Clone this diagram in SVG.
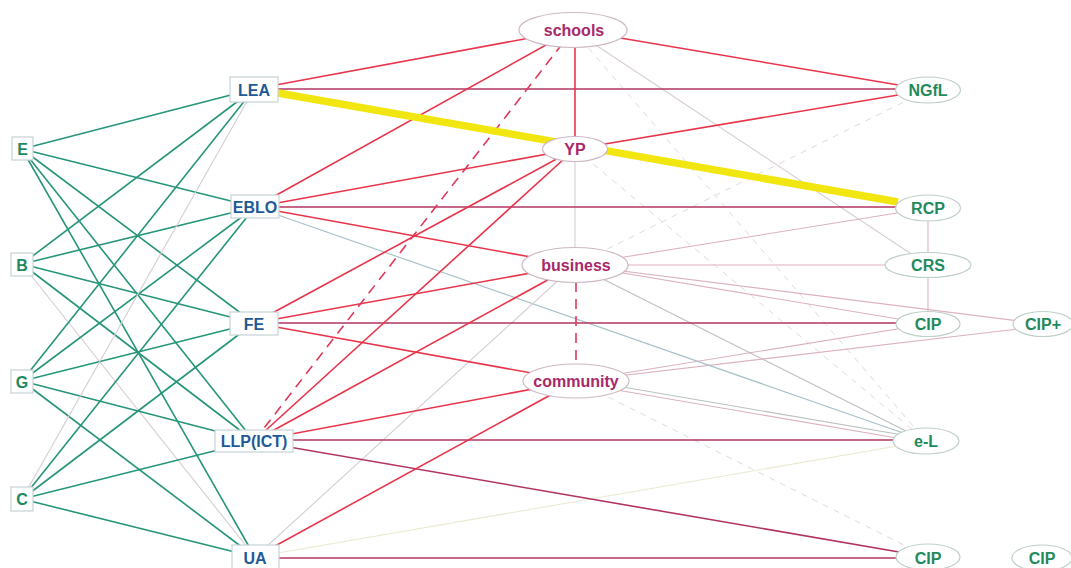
<svg xmlns="http://www.w3.org/2000/svg" width="1071" height="568" viewBox="0 0 1071 568">
  <style>
    .box { fill: #ffffff; stroke: #c6d2d6; stroke-width: 1.2; }
    .ell-mid { fill: #ffffff; stroke: #cdb9c4; stroke-width: 1.2; }
    .ell-right { fill: #ffffff; stroke: #bfd0c7; stroke-width: 1.2; }
    .t { font-family: "Liberation Sans", Arial, sans-serif; font-weight: bold; font-size: 16px; text-anchor: middle; dominant-baseline: central; }
    .green-t { fill: #1f8a5c; }
    .blue-t { fill: #1e5a96; }
    .mag-t { fill: #a8286a; }
    .e-green { stroke: #26957a; stroke-width: 1.6; fill: none; }
    .e-red { stroke: #e8354b; stroke-width: 1.6; fill: none; }
    .e-crim { stroke: #b23462; stroke-width: 1.6; fill: none; }
    .e-dash { stroke: #e0385a; stroke-width: 1.6; stroke-dasharray: 10 7; fill: none; }
    .e-hi { stroke: #f2e610; stroke-width: 7.5; fill: none; }
    .e-faint { stroke: #d6cdd1; stroke-width: 1.1; fill: none; }
    .e-pink { stroke: #dcb2c0; stroke-width: 1.1; fill: none; }
    .e-grey { stroke: #bcc0c0; stroke-width: 1.1; fill: none; }
    .e-blue { stroke: #a9c3c9; stroke-width: 1.2; fill: none; }
    .e-fdash { stroke: #e0dadc; stroke-width: 1; stroke-dasharray: 6 6; fill: none; }
    .e-yel { stroke: #ece9d2; stroke-width: 1.1; fill: none; }
  </style>

  <rect width="1071" height="568" fill="#ffffff"/>

  <g id="connectors">
    <!-- left column to second column -->
    <line class="e-green" x1="22" y1="149" x2="254" y2="89"/>
    <line class="e-green" x1="22" y1="149" x2="255" y2="207"/>
    <line class="e-green" x1="22" y1="149" x2="254" y2="323"/>
    <line class="e-green" x1="22" y1="149" x2="254" y2="441"/>
    <line class="e-green" x1="22" y1="149" x2="255" y2="557"/>

    <line class="e-green" x1="22" y1="264" x2="254" y2="89"/>
    <line class="e-green" x1="22" y1="264" x2="255" y2="207"/>
    <line class="e-green" x1="22" y1="264" x2="254" y2="323"/>
    <line class="e-green" x1="22" y1="264" x2="254" y2="441"/>
    <line class="e-faint" x1="22" y1="264" x2="255" y2="557"/>

    <line class="e-green" x1="22" y1="381" x2="254" y2="89"/>
    <line class="e-green" x1="22" y1="381" x2="255" y2="207"/>
    <line class="e-green" x1="22" y1="381" x2="254" y2="323"/>
    <line class="e-green" x1="22" y1="381" x2="254" y2="441"/>
    <line class="e-green" x1="22" y1="381" x2="255" y2="557"/>

    <line class="e-faint" x1="22" y1="499" x2="254" y2="89"/>
    <line class="e-green" x1="22" y1="499" x2="255" y2="207"/>
    <line class="e-green" x1="22" y1="499" x2="254" y2="323"/>
    <line class="e-green" x1="22" y1="499" x2="254" y2="441"/>
    <line class="e-green" x1="22" y1="499" x2="255" y2="557"/>

    <!-- faint background links among the middle and right nodes -->
    <line class="e-faint" x1="573" y1="30" x2="928" y2="265"/>
    <line class="e-fdash" x1="575" y1="265" x2="928" y2="90"/>
    <line class="e-fdash" x1="575" y1="149" x2="926" y2="441"/>
    <line class="e-fdash" x1="573" y1="30" x2="926" y2="441"/>
    <line class="e-fdash" x1="576" y1="381" x2="928" y2="557"/>
    <line class="e-pink" x1="575" y1="265" x2="928" y2="208"/>
    <line class="e-pink" x1="575" y1="265" x2="928" y2="265"/>
    <line class="e-pink" x1="575" y1="265" x2="928" y2="324"/>
    <line class="e-pink" x1="575" y1="265" x2="1043" y2="324"/>
    <line class="e-grey" x1="575" y1="265" x2="926" y2="441"/>
    <line class="e-pink" x1="576" y1="381" x2="928" y2="324"/>
    <line class="e-pink" x1="576" y1="381" x2="1043" y2="326"/>
    <line class="e-grey" x1="576" y1="379" x2="926" y2="439"/>
    <line class="e-pink" x1="576" y1="383" x2="926" y2="443"/>
    <line class="e-blue" x1="255" y1="207" x2="926" y2="441"/>
    <line class="e-faint" x1="255" y1="557" x2="575" y2="265"/>
    <line class="e-yel" x1="255" y1="557" x2="926" y2="441"/>
    <line class="e-faint" x1="575" y1="149" x2="575" y2="265"/>
    <line class="e-pink" x1="928" y1="208" x2="928" y2="265"/>
    <line class="e-pink" x1="928" y1="265" x2="928" y2="324"/>

    <!-- second column to the middle and right nodes -->
    <line class="e-red" x1="254" y1="89" x2="573" y2="30"/>
    <line class="e-crim" x1="254" y1="89" x2="928" y2="89"/>

    <line class="e-red" x1="255" y1="207" x2="573" y2="30"/>
    <line class="e-red" x1="255" y1="207" x2="575" y2="149"/>
    <line class="e-crim" x1="255" y1="207" x2="928" y2="207"/>
    <line class="e-red" x1="255" y1="207" x2="575" y2="265"/>

    <line class="e-red" x1="254" y1="323" x2="575" y2="149"/>
    <line class="e-red" x1="254" y1="323" x2="575" y2="265"/>
    <line class="e-crim" x1="254" y1="323" x2="928" y2="323"/>
    <line class="e-red" x1="254" y1="323" x2="576" y2="381"/>

    <line class="e-dash" x1="254" y1="441" x2="573" y2="30"/>
    <line class="e-red" x1="254" y1="441" x2="575" y2="149"/>
    <line class="e-red" x1="254" y1="441" x2="575" y2="265"/>
    <line class="e-red" x1="254" y1="441" x2="576" y2="381"/>
    <line class="e-crim" x1="254" y1="440" x2="926" y2="440"/>
    <line class="e-crim" x1="254" y1="441" x2="928" y2="557"/>

    <line class="e-red" x1="255" y1="557" x2="576" y2="381"/>
    <line class="e-crim" x1="255" y1="558" x2="928" y2="558"/>

    <!-- links between middle and right nodes -->
    <line class="e-red" x1="575" y1="30" x2="575" y2="149"/>
    <line class="e-red" x1="573" y1="30" x2="928" y2="90"/>
    <line class="e-red" x1="575" y1="149" x2="928" y2="90"/>
    <line class="e-dash" x1="576" y1="265" x2="576" y2="381"/>

    <!-- highlighted link -->
    <line class="e-hi" x1="278" y1="93" x2="898" y2="202"/>
  </g>

  <!-- left column -->
  <g id="node-E"><rect class="box" x="12" y="137" width="21" height="23"/><text class="t green-t" x="22.5" y="149">E</text></g>
  <g id="node-B"><rect class="box" x="11" y="253" width="22" height="23"/><text class="t green-t" x="22" y="265">B</text></g>
  <g id="node-G"><rect class="box" x="11" y="370" width="22" height="23"/><text class="t green-t" x="22" y="382">G</text></g>
  <g id="node-C"><rect class="box" x="11" y="487" width="22" height="24"/><text class="t green-t" x="22" y="499">C</text></g>

  <!-- second column -->
  <g id="node-LEA"><rect class="box" x="230" y="77" width="48" height="25"/><text class="t blue-t" x="254" y="90">LEA</text></g>
  <g id="node-EBLO"><rect class="box" x="231" y="195" width="48" height="23"/><text class="t blue-t" x="255" y="207">EBLO</text></g>
  <g id="node-FE"><rect class="box" x="230" y="312" width="48" height="23"/><text class="t blue-t" x="254" y="324">FE</text></g>
  <g id="node-LLP"><rect class="box" x="215" y="430" width="78" height="22"/><text class="t blue-t" x="254" y="441">LLP(ICT)</text></g>
  <g id="node-UA"><rect class="box" x="232" y="545" width="47" height="26"/><text class="t blue-t" x="255" y="558">UA</text></g>

  <!-- middle column -->
  <g id="node-schools"><ellipse class="ell-mid" cx="573" cy="30" rx="54" ry="17.5"/><text class="t mag-t" x="574" y="30">schools</text></g>
  <g id="node-YP"><ellipse class="ell-mid" cx="575" cy="149" rx="32.5" ry="12.5"/><text class="t mag-t" x="575" y="149">YP</text></g>
  <g id="node-business"><ellipse class="ell-mid" cx="575" cy="265" rx="53" ry="17.5"/><text class="t mag-t" x="576" y="265">business</text></g>
  <g id="node-community"><ellipse class="ell-mid" cx="576" cy="381" rx="53" ry="17"/><text class="t mag-t" x="576" y="381">community</text></g>

  <!-- right column -->
  <g id="node-NGfL"><ellipse class="ell-right" cx="928" cy="90" rx="32.5" ry="13"/><text class="t green-t" x="928" y="90">NGfL</text></g>
  <g id="node-RCP"><ellipse class="ell-right" cx="928" cy="208" rx="32.5" ry="13"/><text class="t green-t" x="928" y="208">RCP</text></g>
  <g id="node-CRS"><ellipse class="ell-right" cx="928" cy="265" rx="43" ry="12.5"/><text class="t green-t" x="928" y="265">CRS</text></g>
  <g id="node-CIP1"><ellipse class="ell-right" cx="928" cy="324" rx="32" ry="12.5"/><text class="t green-t" x="928" y="324">CIP</text></g>
  <g id="node-CIPplus"><ellipse class="ell-right" cx="1043" cy="324" rx="30" ry="12.5"/><text class="t green-t" x="1043" y="324">CIP+</text></g>
  <g id="node-eL"><ellipse class="ell-right" cx="926" cy="441" rx="33" ry="13"/><text class="t green-t" x="926" y="441">e-L</text></g>
  <g id="node-CIP2"><ellipse class="ell-right" cx="928" cy="557" rx="32" ry="13"/><text class="t green-t" x="928" y="558">CIP</text></g>
  <g id="node-CIP3"><ellipse class="ell-right" cx="1042" cy="558" rx="30" ry="13"/><text class="t green-t" x="1042" y="558">CIP</text></g>
</svg>
